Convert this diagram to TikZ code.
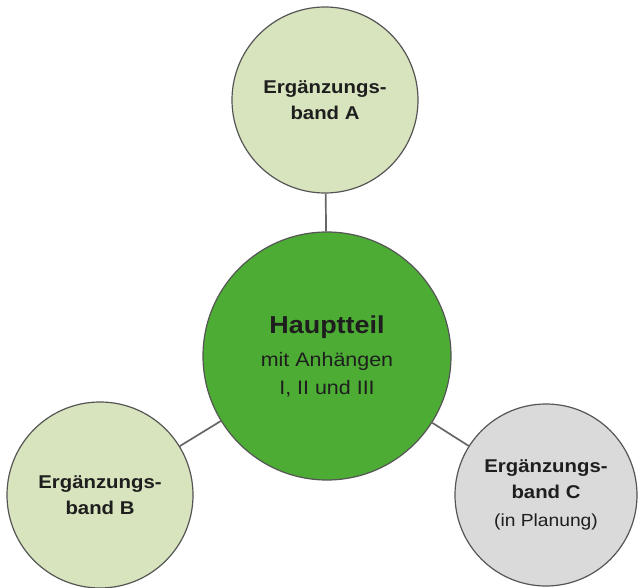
\documentclass[tikz,border=0pt]{standalone}
\usepackage{fontspec}
\setmainfont{Liberation Sans}[FakeStretch=1.1]
\usepackage{tikz}
\definecolor{bandgreen}{HTML}{D7E4BD}
\definecolor{maingreen}{HTML}{4CAC34}
\definecolor{plangray}{HTML}{DADADA}
\definecolor{rimgray}{HTML}{555555}
\definecolor{linkgray}{HTML}{666666}
\definecolor{inkgray}{HTML}{1E1E1E}
\tikzset{
  band/.style={circle, draw=rimgray, line width=1.2pt, fill=bandgreen, align=center, text=inkgray,
    minimum size=186pt, inner sep=0pt, font=\fontsize{18.5}{25.5}\selectfont\bfseries},
  link/.style={draw=linkgray, line width=1.7pt}
}

\begin{document}
\begin{tikzpicture}[x=1pt, y=-1pt]
      \useasboundingbox (0, 0) rectangle (638, 588);
      \node[band] (bandA) at (325, 100) {Ergänzungs-\\band A};
      \node[band] (bandB) at (100, 495) {Ergänzungs-\\band B};
      \node[band, fill=plangray, minimum size=182pt] (bandC) at (546, 495)
        {Ergänzungs-\\band C\\[3pt]{\mdseries\fontsize{17.5}{25.5}\selectfont (in Planung)}};
      \node[circle, draw=rimgray, line width=1.2pt, fill=maingreen, align=center, text=inkgray,
        minimum size=248pt, inner sep=0pt, font=\fontsize{19.5}{28}\selectfont] (main) at (327, 356)
        {{\fontsize{24.5}{28}\selectfont\bfseries Hauptteil}\\[5pt]mit Anhängen\\I, II und III};
      \draw[link] (bandA) -- (main);
      \draw[link] (bandB) -- (main);
      \draw[link] (bandC) -- (main);
\end{tikzpicture}
\end{document}
